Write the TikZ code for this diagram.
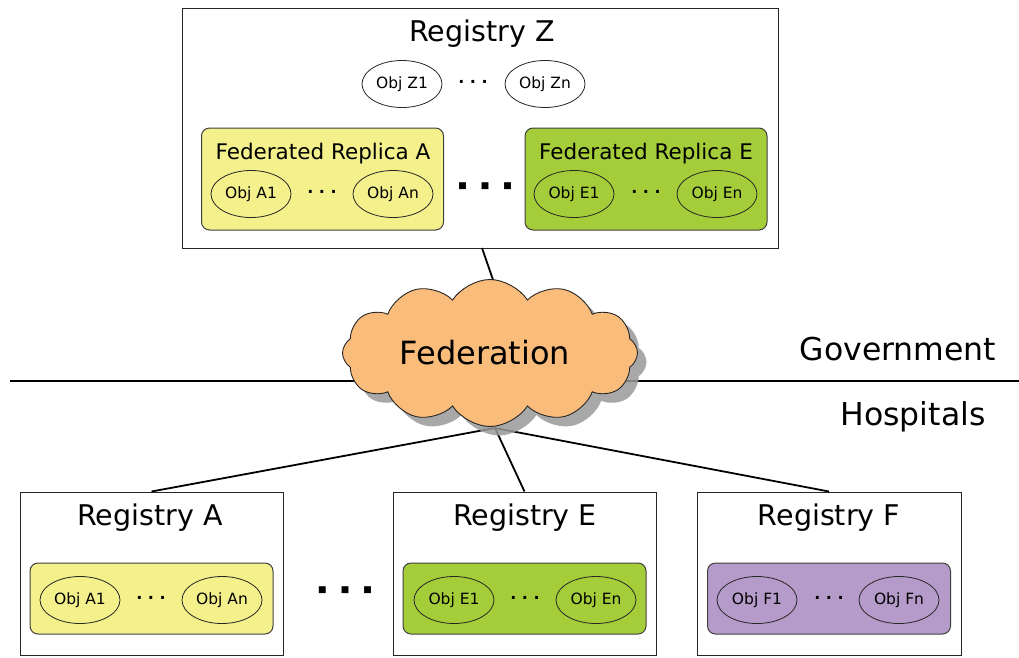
\documentclass[tikz,border=0pt]{standalone}
\usepackage{fontspec}
\setmainfont{DejaVu Sans}
\usetikzlibrary{shapes.symbols,shapes.geometric,shadows}
\definecolor{repY}{HTML}{F4F08C}
\definecolor{repG}{HTML}{A5CD39}
\definecolor{repP}{HTML}{B59BC9}
\definecolor{cloudC}{HTML}{F9BC7B}
\begin{document}
\begin{tikzpicture}[x=1pt,y=-1pt,
  regbox/.style={draw=black!85, line width=1pt, fill=white, inner sep=0pt},
  rep/.style={draw=black!75, rounded corners=8pt, line width=1pt, inner sep=0pt, minimum width=242pt, minimum height=102pt},
  obj/.style={ellipse, draw=black!85, line width=0.8pt, minimum width=80pt, minimum height=47pt, inner sep=0pt, font=\fontsize{15.5}{15.5}\selectfont},
  ttl/.style={font=\fontsize{28.5}{28.5}\selectfont},
  rtl/.style={font=\fontsize{21.5}{21.5}\selectfont},
  sdots/.style={font=\fontsize{16}{16}\selectfont\bfseries, inner sep=0pt},
  bdots/.style={font=\fontsize{9}{9}\selectfont, inner sep=0pt},
  conn/.style={line width=1.8pt, black},
  lbl/.style={font=\fontsize{31.5}{31.5}\selectfont}
]
\useasboundingbox (0,0) rectangle (1019,657);

% horizontal divider
\coordinate (hl) at (10,381);
\coordinate (hr) at (1019,381);
\draw[line width=2.6pt] (hl) -- (hr);

% Registry Z
\node[regbox, minimum width=596pt, minimum height=240pt] (Z) at (480,128) {};
\node[ttl] (Zt) at (482,34) {Registry Z};
\node[obj] (Z1) at (402,84) {Obj Z1};
\node[obj] (Zn) at (545,84) {Obj Zn};
\node[sdots] (Zd) at (473,84) {· · ·};

\node[rep, fill=repY] (RA) at (322.5,179) {};
\node[rtl] (RAt) at (323,154) {Federated Replica A};
\node[obj] (RA1) at (251,194) {Obj A1};
\node[obj] (RAn) at (393,194) {Obj An};
\node[sdots] (RAd) at (322,194) {· · ·};

\node[bdots] (Zbd) at (485,186) {■\hspace{14pt}■\hspace{14pt}■};

\node[rep, fill=repG] (RE) at (646,179) {};
\node[rtl] (REt) at (646,154) {Federated Replica E};
\node[obj] (RE1) at (574,194) {Obj E1};
\node[obj] (REn) at (717,194) {Obj En};
\node[sdots] (REd) at (646,194) {· · ·};

% connector Z to cloud
\coordinate (zc) at (482,248);
\coordinate (ct) at (500,300);
\draw[conn] (zc) -- (ct);

% hub
\coordinate (hub) at (495,428);

% bottom registries
\node[regbox, minimum width=263pt, minimum height=163pt] (A) at (151.5,573.5) {};
\node[regbox, minimum width=263pt, minimum height=163pt] (E) at (524.5,573.5) {};
\node[regbox, minimum width=264pt, minimum height=163pt] (F) at (829,573.5) {};

\draw[conn] (hub) -- (A.north);
\draw[conn] (hub) -- (E.north);
\draw[conn] (hub) -- (F.north);

% cloud
\node[cloud, cloud puffs=12, cloud puff arc=115, aspect=2.3, draw=black!85, line width=0.9pt, fill=cloudC,
      minimum width=295pt, minimum height=147pt, inner sep=0pt,
      drop shadow={shadow xshift=9pt, shadow yshift=-9pt, fill=black!40, opacity=0.85}] (fed) at (490,353) {};
\node[font=\fontsize{32}{32}\selectfont] (fedt) at (485,353) {Federation};

\node[lbl] (gov) at (898,349) {Government};
\node[lbl] (hos) at (913,417) {Hospitals};

\node[ttl] (At) at (150,518) {Registry A};
\node[rep, fill=repY, minimum width=243pt, minimum height=71pt] (IA) at (151.5,598.5) {};
\node[obj] (A1) at (80,600) {Obj A1};
\node[obj] (An) at (222,600) {Obj An};
\node[sdots] (Ad) at (151,600) {· · ·};

\node[bdots] (Bbd) at (345,590) {■\hspace{14pt}■\hspace{14pt}■};

\node[ttl] (Et) at (525,518) {Registry E};
\node[rep, fill=repG, minimum width=243pt, minimum height=71pt] (IE) at (524.5,598.5) {};
\node[obj] (E1) at (454,600) {Obj E1};
\node[obj] (En) at (596,600) {Obj En};
\node[sdots] (Ed) at (525,600) {· · ·};

\node[ttl] (Ft) at (829,518) {Registry F};
\node[rep, fill=repP, minimum width=243pt, minimum height=71pt] (IF) at (829,598.5) {};
\node[obj] (F1) at (757,600) {Obj F1};
\node[obj] (Fn) at (899,600) {Obj Fn};
\node[sdots] (Fd) at (829,600) {· · ·};
\end{tikzpicture}
\end{document}
